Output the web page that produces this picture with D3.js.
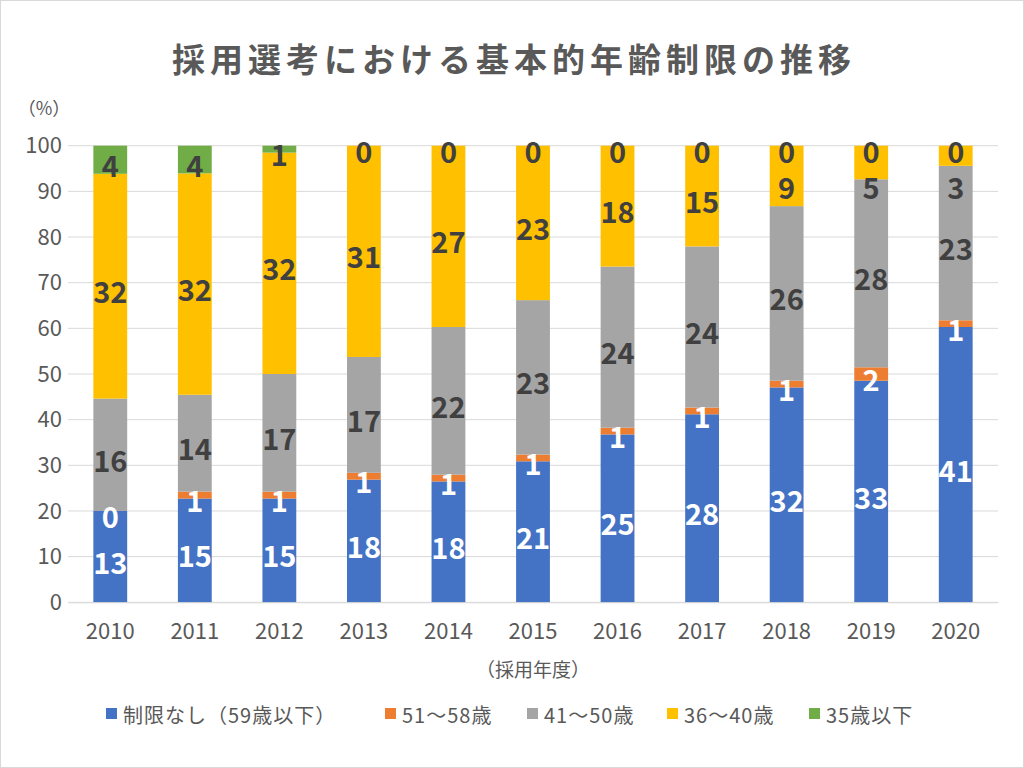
<!DOCTYPE html>
<html><head><meta charset="utf-8">
<script src="https://cdn.jsdelivr.net/npm/d3@7"></script>
<style>body{margin:0;background:#fff;}svg{display:block;}</style>
</head><body>
<svg id="chart" width="1024" height="768"></svg>
<script>
const years = ["2010","2011","2012","2013","2014","2015","2016","2017","2018","2019","2020"];
const seriesNames = ["制限なし（59歳以下）","51〜58歳","41〜50歳","36〜40歳","35歳以下"];
const seriesColors = ["#4472C4","#ED7D31","#A5A5A5","#FFC000","#70AD47"];
const labelColors = ["#ffffff","#ffffff","#404040","#404040","#404040"];
const noLimit   = [13,15,15,18,18,21,25,28,32,33,41];
const age51to58 = [0,1,1,1,1,1,1,1,1,2,1];
const age41to50 = [16,14,17,17,22,23,24,24,26,28,23];
const age36to40 = [32,32,32,31,27,23,18,15,9,5,3];
const age35under= [4,4,1,0,0,0,0,0,0,0,0];
const yTicks = [0,10,20,30,40,50,60,70,80,90,100];
const titleText = "採用選考における基本的年齢制限の推移";
const yUnit = "（%）";
const xTitle = "（採用年度）";

const series = [noLimit, age51to58, age41to50, age36to40, age35under];
const rows = years.map((y,i)=>{
  const o = {year:y};
  series.forEach((s,k)=>o["s"+k]=s[i]);
  o.total = series.reduce((a,s)=>a+s[i],0);
  return o;
});
const pctRows = rows.map(r=>{
  const o={year:r.year};
  for(let k=0;k<5;k++) o["s"+k]=r["s"+k]/r.total*100;
  return o;
});
const keys = [0,1,2,3,4].map(k=>"s"+k);
const stacked = d3.stack().keys(keys)(pctRows);

const svg = d3.select("#chart");
const W=1024,H=768;
svg.append("rect").attr("x",0.5).attr("y",0.5).attr("width",W-1).attr("height",H-1)
  .attr("fill","#fff").attr("stroke","#d9d9d9");

const m = {left:68,right:1024-998,top:145.7,bottom:768-602.3};
const x = d3.scaleBand().domain(years).range([m.left, W-m.right]).paddingInner(0.6).paddingOuter(0.3);
const y = d3.scaleLinear().domain([0,100]).range([H-m.bottom, m.top]);

const font = "'Noto Sans CJK JP','Noto Sans',sans-serif";

svg.append("text").attr("x",514).attr("y",72).attr("text-anchor","middle")
  .attr("font-family",font).attr("font-weight","bold").attr("font-size",33)
  .attr("letter-spacing",5)
  .attr("fill","#595959").text(titleText);

// gridlines
const g = svg.append("g");
g.selectAll("line.grid").data(yTicks).join("line")
  .attr("x1",m.left).attr("x2",W-m.right)
  .attr("y1",d=>y(d)).attr("y2",d=>y(d))
  .attr("stroke","#d9d9d9").attr("stroke-width",1);

// y axis labels
const yAxis = d3.axisLeft(y).tickValues(yTicks).tickSize(0).tickPadding(6);
const ya = svg.append("g").attr("transform",`translate(${m.left},0)`).call(yAxis);
ya.select(".domain").remove();
ya.selectAll("text").attr("font-family",font).attr("font-size",22).attr("fill","#595959");

svg.append("text").attr("x",44).attr("y",107).attr("text-anchor","middle")
  .attr("dominant-baseline","central")
  .attr("font-family",font).attr("font-size",18).attr("fill","#595959").text(yUnit);

// bars
stacked.forEach((layer,k)=>{
  svg.append("g").selectAll("rect").data(layer).join("rect")
    .attr("x",d=>x(d.data.year)).attr("width",x.bandwidth())
    .attr("y",d=>y(d[1])).attr("height",d=>y(d[0])-y(d[1]))
    .attr("fill",seriesColors[k]);
});

// x axis
const xAxis = d3.axisBottom(x).tickSize(0).tickPadding(21);
const xa = svg.append("g").attr("transform",`translate(0,${H-m.bottom})`).call(xAxis);
xa.select(".domain").attr("stroke","#d9d9d9");
xa.selectAll("text").attr("font-family",font).attr("font-size",22).attr("fill","#595959");

svg.append("text").attr("x",533).attr("y",668).attr("text-anchor","middle")
  .attr("dominant-baseline","central")
  .attr("font-family",font).attr("font-size",19).attr("fill","#595959").text(xTitle);

// labels with simple collision avoidance (top-down)
const labG = svg.append("g");
years.forEach((yr,i)=>{
  const labs = [];
  for(let k=4;k>=0;k--){
    const d = stacked[k][i];
    labs.push({k, v: series[k][i], cy: y((d[0]+d[1])/2)+4});
  }
  let prev = -Infinity;
  labs.forEach(l=>{
    l.y = Math.max(l.cy, prev + 36);
    prev = l.y;
  });
  labs.forEach(l=>{
    labG.append("text").attr("x",x(yr)+x.bandwidth()/2).attr("y",l.y)
      .attr("text-anchor","middle").attr("dominant-baseline","central")
      .attr("font-family",font).attr("font-weight","bold").attr("font-size",29)
      .attr("fill",labelColors[l.k]).text(l.v);
  });
});

// legend
const legX = [106,385,527,667,809];
const lg = svg.append("g");
seriesNames.forEach((n,k)=>{
  lg.append("rect").attr("x",legX[k]).attr("y",708).attr("width",11).attr("height",11).attr("fill",seriesColors[k]);
  lg.append("text").attr("x",legX[k]+17).attr("y",714).attr("dominant-baseline","central")
    .attr("font-family",font).attr("font-size",20).attr("letter-spacing",1)
    .attr("fill","#595959").text(n);
});
</script>
</body></html>
